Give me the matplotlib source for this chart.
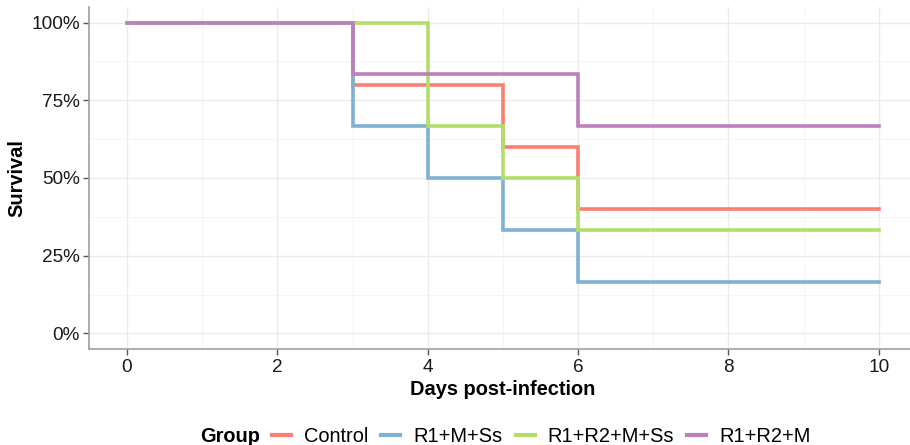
import matplotlib
matplotlib.use("Agg")
import matplotlib.pyplot as plt
from matplotlib.ticker import FuncFormatter, MultipleLocator
from matplotlib.lines import Line2D

plt.rcParams['font.family'] = ['Liberation Sans', 'DejaVu Sans']

groups = ["Control", "R1+M+Ss", "R1+R2+M+Ss", "R1+R2+M"]
colors = ["#FB8072", "#80B1D3", "#B3DE69", "#BC80BD"]
days = {
    "Control":     [0, 3, 5, 6, 10],
    "R1+M+Ss":     [0, 3, 4, 5, 6, 10],
    "R1+R2+M+Ss":  [0, 4, 5, 6, 10],
    "R1+R2+M":     [0, 3, 6, 10],
}
survival = {
    "Control":     [1.0, 0.8, 0.6, 0.4, 0.4],
    "R1+M+Ss":     [1.0, 2/3, 0.5, 1/3, 1/6, 1/6],
    "R1+R2+M+Ss":  [1.0, 2/3, 0.5, 1/3, 1/3],
    "R1+R2+M":     [1.0, 5/6, 2/3, 2/3],
}

fig = plt.figure(figsize=(9.1, 4.45), dpi=100)
ax = fig.add_axes([89.4/910, 96/445, 827/910, 342/445])

for g, c in zip(groups, colors):
    ax.step(days[g], survival[g], where="post", color=c, lw=2.6,
            solid_joinstyle="miter", zorder=3)

ax.set_xlim(-0.5, 10.5)
ax.set_ylim(-0.05, 1.05)
ax.xaxis.set_major_locator(MultipleLocator(2))
ax.xaxis.set_minor_locator(MultipleLocator(1))
ax.yaxis.set_major_locator(MultipleLocator(0.25))
ax.yaxis.set_minor_locator(MultipleLocator(0.125))
ax.yaxis.set_major_formatter(FuncFormatter(lambda v, p: f"{int(round(v*100))}%"))
ax.grid(which="major", color="#EBEBEB", lw=1.0, zorder=0)
ax.grid(which="minor", color="#F3F3F3", lw=0.6, zorder=0)
ax.set_axisbelow(True)
for s in ["top", "right"]:
    ax.spines[s].set_visible(False)
for s in ["left", "bottom"]:
    ax.spines[s].set_color("#A0A0A0")
    ax.spines[s].set_linewidth(1.2)
ax.tick_params(which="major", length=4, color="#555555", labelsize=13.7, labelcolor="#1A1A1A", width=1, pad=3)
ax.tick_params(which="minor", length=0)
ax.set_xlabel("Days post-infection", fontsize=14.4, fontweight="bold", labelpad=3)
ax.set_ylabel("Survival", fontsize=14.4, fontweight="bold", labelpad=3)

handles = [Line2D([0], [0], color=c, lw=3) for c in colors]
ly = 1 - 436/445
fig.text(200/910, ly, "Group", fontsize=14.4, fontweight="bold", va="center", ha="left")
fig.legend(handles, groups, loc="center left", bbox_to_anchor=(272/910, ly),
           ncol=4, frameon=False, fontsize=14.4, handlelength=0.95, handletextpad=0.65,
           columnspacing=0.65, borderaxespad=0, borderpad=0)

fig.savefig("out.png", dpi=100)
